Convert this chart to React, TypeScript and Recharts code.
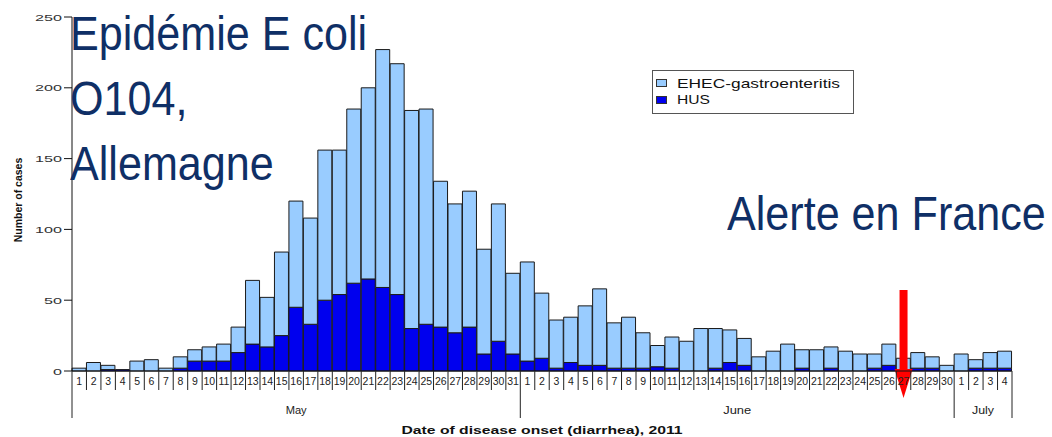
import { Bar, BarChart, Legend, ReferenceLine, XAxis, YAxis } from 'recharts'

const months = ['May', 'June', 'July']
const daysInMonth = [31, 30, 4]

// HUS cases per day of onset
const husMay = [0, 0, 1, 1, 0, 0, 0, 2, 7, 7, 7, 13, 19, 17, 25, 45, 33, 50, 54, 62, 65, 59, 54, 30, 33, 31, 27, 31, 12, 21, 12]
const husJune = [7, 9, 2, 6, 4, 4, 2, 2, 2, 3, 2, 0, 0, 2, 6, 4, 0, 0, 0, 2, 0, 2, 0, 0, 2, 4, 0, 2, 2, 0]
const husJuly = [0, 2, 2, 2]

// EHEC gastroenteritis cases (stacked on top of HUS)
const ehecMay = [2, 6, 3, 0, 7, 8, 2, 8, 8, 10, 12, 18, 45, 35, 59, 75, 75, 106, 102, 123, 135, 168, 163, 154, 152, 103, 91, 96, 74, 97, 57]
const ehecJune = [70, 46, 34, 32, 42, 54, 32, 36, 25, 15, 22, 21, 30, 28, 23, 19, 10, 14, 19, 13, 15, 15, 14, 12, 10, 15, 9, 11, 8, 4]
const ehecJuly = [12, 6, 11, 12]

const yTicks = [0, 50, 100, 150, 200, 250]
const monthLabelWidth = [21, 28, 22]
const alertDate = 'June 27'

const husByMonth = [husMay, husJune, husJuly]
const ehecByMonth = [ehecMay, ehecJune, ehecJuly]

const data = months.flatMap((month, mi) =>
  husByMonth[mi].map((hus, i) => ({
    date: `${month} ${i + 1}`,
    month,
    day: i + 1,
    hus,
    ehec: ehecByMonth[mi][i],
  })),
)
const byDate = new Map(data.map((d) => [d.date, d]))

const W = 1052
const H = 437
const MARGIN = { top: 17, right: 40, bottom: 16, left: 12 }
const Y_AXIS_W = 60
const X_AXIS_H = 50
const BAND = (W - MARGIN.left - MARGIN.right - Y_AXIS_W) / data.length

const LIGHT = '#99ccff'
const DARK = '#0000ee'
const NAVY = '#0f2f66'
const FONT = '"Liberation Sans", Arial, sans-serif'

function DayTick(props: any) {
  const { x, y, payload } = props
  const d = byDate.get(payload.value)
  if (!d) return null
  const mi = months.indexOf(d.month)
  const left = x - BAND / 2
  const first = d.day === 1
  const last = mi === months.length - 1 && d.day === daysInMonth[mi]
  return (
    <g>
      <line x1={left} y1={y} x2={left} y2={y + (first ? 47 : 19)} stroke="#222" />
      {last && <line x1={x + BAND / 2} y1={y} x2={x + BAND / 2} y2={y + 47} stroke="#222" />}
      <text x={x} y={y + 14} textAnchor="middle" fontSize={10.5} fill="#222" fontFamily={FONT}>
        {d.day}
      </text>
      {first && (
        <text
          x={left + (daysInMonth[mi] * BAND) / 2}
          y={y + 43}
          textAnchor="middle"
          fontSize={10}
          fill="#222"
          fontFamily={FONT}
          textLength={monthLabelWidth[mi]}
          lengthAdjust="spacingAndGlyphs"
        >
          {d.month}
        </text>
      )}
    </g>
  )
}

function CountTick(props: any) {
  const { x, y, payload } = props
  const label = String(payload.value)
  return (
    <text
      x={x}
      y={y + 3.5}
      textAnchor="end"
      fontSize={9.5}
      fill="#333"
      fontFamily={FONT}
      textLength={label.length * 9}
      lengthAdjust="spacingAndGlyphs"
    >
      {label}
    </text>
  )
}

function YTitle() {
  return (
    <text
      x={18}
      y={200}
      transform="rotate(-90 18 200)"
      textAnchor="middle"
      dominantBaseline="central"
      fontSize={10.5}
      fontWeight="bold"
      fill="#111"
      fontFamily={FONT}
    >
      Number of cases
    </text>
  )
}

function XTitle(props: any) {
  const vb = props.viewBox || {}
  return (
    <text
      x={vb.x + vb.width / 2}
      y={vb.y + vb.height + 13}
      textAnchor="middle"
      fontSize={11}
      fontWeight="bold"
      fill="#111"
      fontFamily={FONT}
      textLength={281}
      lengthAdjust="spacingAndGlyphs"
    >
      Date of disease onset (diarrhea), 2011
    </text>
  )
}

function Arrow(props: any) {
  const x = props.x1
  const bottom = Math.max(props.y1, props.y2)
  return (
    <g>
      <rect x={x - 4} y={bottom - 81} width={8} height={80} fill="#ff0000" />
      <polygon points={`${x - 9},${bottom - 2} ${x + 9},${bottom - 2} ${x},${bottom + 27}`} fill="#ff0000" />
    </g>
  )
}

function LegendBox() {
  return (
    <svg width={202} height={44} style={{ display: 'block' }}>
      <rect x={0.5} y={0.5} width={201} height={43} fill="#fff" stroke="#555" />
      <rect x={4.5} y={9.5} width={10} height={7} fill={LIGHT} stroke="#333" />
      <text x={25} y={18} fontSize={13.5} fill="#111" fontFamily={FONT} textLength={163} lengthAdjust="spacingAndGlyphs">
        EHEC-gastroenteritis
      </text>
      <rect x={4.5} y={26.5} width={10} height={7} fill={DARK} stroke="#333" />
      <text x={25} y={34} fontSize={13.5} fill="#111" fontFamily={FONT} textLength={33} lengthAdjust="spacingAndGlyphs">
        HUS
      </text>
    </svg>
  )
}

const bigText = {
  position: 'absolute' as const,
  fontFamily: '"Liberation Sans", Arial, sans-serif',
  fontSize: 49,
  lineHeight: '65px',
  color: NAVY,
  transform: 'scaleX(0.88)',
  transformOrigin: 'left top',
  whiteSpace: 'nowrap' as const,
  pointerEvents: 'none' as const,
}

export default function App() {
  return (
    <div style={{ position: 'absolute', left: 0, top: 0, width: W, height: H, background: '#fff', fontFamily: FONT }}>
      <BarChart width={W} height={H} data={data} margin={MARGIN} barCategoryGap={0} barGap={0}>
        <XAxis
          dataKey="date"
          interval={0}
          height={X_AXIS_H}
          tickLine={false}
          tickSize={0}
          tickMargin={0}
          tick={<DayTick />}
          stroke="#111"
          label={<XTitle />}
        />
        <YAxis
          width={Y_AXIS_W}
          domain={[0, 250]}
          ticks={yTicks}
          interval={0}
          tickSize={8}
          tickMargin={2}
          stroke="#111"
          tick={<CountTick />}
          label={<YTitle />}
        />
        <Legend
          layout="vertical"
          align="center"
          verticalAlign="middle"
          wrapperStyle={{ left: 652, top: 70, width: 202, height: 44 }}
          content={() => <LegendBox />}
        />
        <Bar dataKey="hus" name="HUS" stackId="cases" fill={DARK} stroke="#1a1a1a" strokeWidth={1} isAnimationActive={false} />
        <Bar dataKey="ehec" name="EHEC-gastroenteritis" stackId="cases" fill={LIGHT} stroke="#1a1a1a" strokeWidth={1} isAnimationActive={false} />
        <ReferenceLine x={alertDate} stroke="#ff0000" shape={<Arrow />} />
      </BarChart>
      <div style={{ ...bigText, left: 70, top: 1 }}>
        Epidémie E coli
        <br />
        O104,
        <br />
        Allemagne
      </div>
      <div style={{ ...bigText, left: 727, top: 181 }}>Alerte en France</div>
    </div>
  )
}
